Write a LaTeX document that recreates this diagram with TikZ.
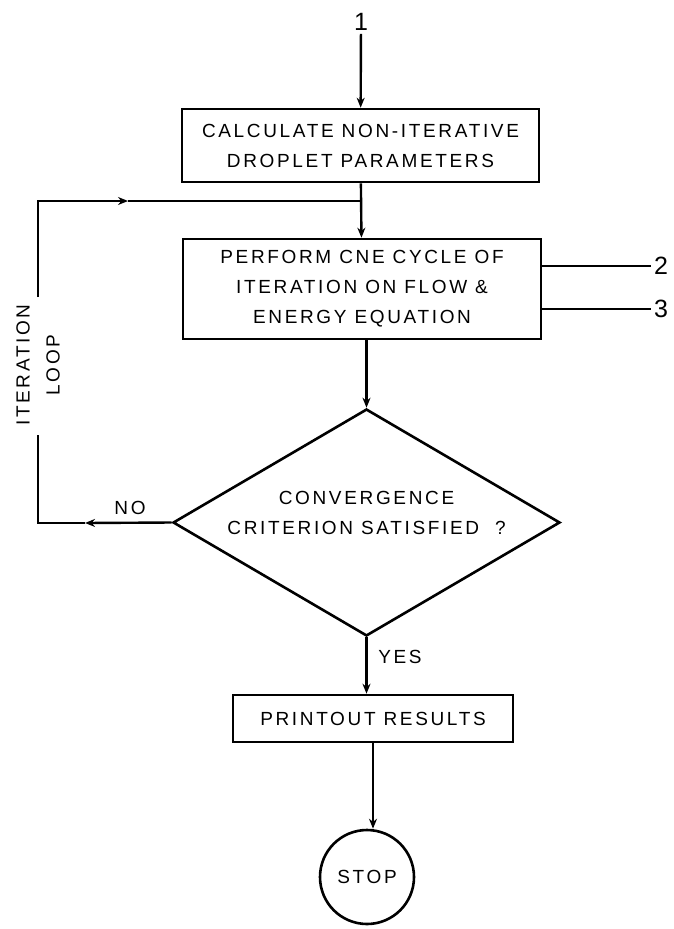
\documentclass[tikz,border=0pt]{standalone}
\usepackage{fontspec}
\setmainfont{Liberation Sans}[LetterSpace=14]
\usetikzlibrary{arrows.meta}
\usetikzlibrary{shapes.geometric}
\newcommand{\lettering}{\fontsize{19}{30}\selectfont}
\newcommand{\bigdigits}{\fontsize{25}{30}\selectfont}
\tikzset{box/.style={rectangle, draw, line width=2.6pt, align=center, font=\lettering}}
\tikzset{test/.style={diamond, draw, line width=2.6pt, inner sep=0pt}}
\tikzset{halt/.style={circle, draw, line width=2.6pt, font=\lettering, inner sep=0pt}}
\tikzset{conn/.style={font=\bigdigits, inner sep=2pt}}
\tikzset{lbl/.style={font=\lettering, inner sep=0pt}}
\tikzset{flow/.style={-{Stealth[length=10pt, width=8pt]}}}

\begin{document}
\begin{tikzpicture}[x=1pt, y=-1pt, line width=2.4pt]
  \useasboundingbox (0,0) rectangle (673,929);

  \node[conn] (one) at (361,22) {1};
  \node[box, minimum width=357pt, minimum height=73pt] (calc) at (360.5,145.5)
    {CALCULATE NON-ITERATIVE\\DROPLET PARAMETERS};
  \node[box, minimum width=358pt, minimum height=100pt] (cycle) at (362,289)
    {PERFORM CNE CYCLE OF\\ITERATION ON FLOW \&\\ENERGY EQUATION};
  \node[test, minimum width=387pt, minimum height=227pt,
    label={[lbl, align=center, yshift=10pt]center:CONVERGENCE\\CRITERION SATISFIED \ ?}]
    (conv) at (366.5,522.5) {};
  \node[box, minimum width=280pt, minimum height=47pt] (print) at (373,718.5) {PRINTOUT RESULTS};
  \node[halt, minimum size=94pt] (stop) at (367,877) {STOP};

  \node[conn] (two) at (661,266) {2};
  \node[conn] (three) at (661,309) {3};
  \node[lbl, rotate=90, align=center] (loop) at (38,365) {ITERATION\\LOOP};
  \node[lbl] (no) at (130,508) {NO};
  \node[lbl] (yes) at (400,657) {YES};

  % loop corners and mid arrows
  \coordinate (join) at (calc.south |- 0,201);
  \coordinate (looptop) at (38,201);
  \coordinate (loopbot) at (38,523);
  \coordinate (gaphi) at (38,297);
  \coordinate (gaplo) at (38,435);
  \coordinate (noarr) at (85,523);
  \coordinate (looparr) at (128,201);

  \draw[flow] (one) -- (calc);
  \draw[flow] (calc) -- (cycle);
  \draw[flow] (cycle.south -| conv.north) -- (conv.north);
  \draw[flow] (conv.south) -- (conv.south |- print.north);
  \draw[flow] (print.south) -- (print.south |- stop.north);

  \draw[flow] (conv.west) -- (noarr);
  \draw (noarr) -- (loopbot) -- (gaplo);
  \draw[flow] (gaphi) -- (looptop) -- (looparr);
  \draw (looparr) -- (join);

  \draw (cycle.east |- two) -- (two);
  \draw (cycle.east |- three) -- (three);

\end{tikzpicture}
\end{document}
